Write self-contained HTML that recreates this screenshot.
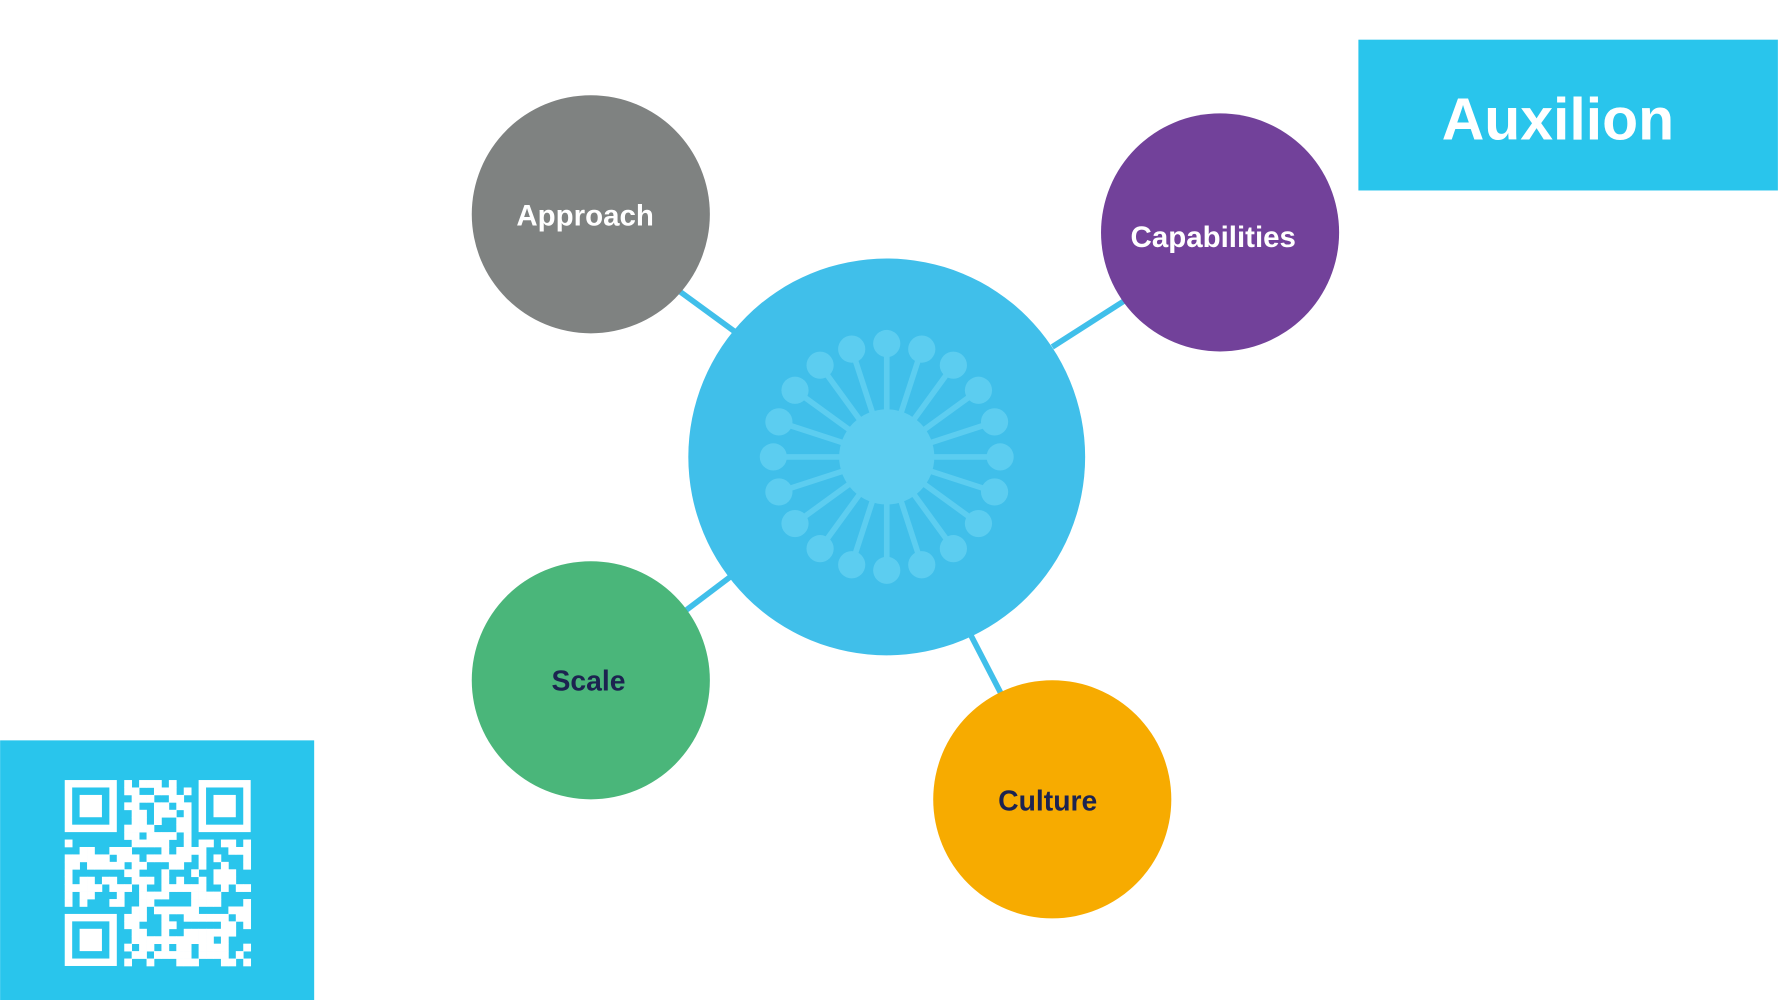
<!DOCTYPE html>
<html><head><meta charset="utf-8"><style>
html,body{margin:0;padding:0;background:#fff;overflow:hidden}
svg{display:block}
text{font-family:"Liberation Sans",Arial,sans-serif;font-weight:bold}
</style></head><body>
<svg id="s" width="1778" height="1000" viewBox="0 0 1568 882" xmlns="http://www.w3.org/2000/svg">
<rect x="1198" y="35" width="370" height="133" fill="#29c5ec"/>
<text x="1374" y="123" font-size="52" fill="#fff" text-anchor="middle">Auxilion</text>
<rect x="0" y="653" width="277" height="229" fill="#29c5ec"/>
<g id="qr" fill="#fff"></g>
<g stroke="#40bfea" stroke-width="5">
<line x1="598" y1="256" x2="650" y2="294"/>
<line x1="928" y1="306" x2="992" y2="265"/>
<line x1="604" y1="539" x2="645" y2="508"/>
<line x1="855" y1="558" x2="884" y2="614"/>
</g>
<circle cx="782" cy="403" r="175" fill="#40bfea"/>
<g id="hub" fill="#5ccdf0" stroke="#5ccdf0" stroke-width="5"></g>
<circle cx="521" cy="189" r="105" fill="#7f8281"/>
<text x="516" y="199" font-size="26" fill="#fff" text-anchor="middle">Approach</text>
<circle cx="1076" cy="205" r="105" fill="#72419a"/>
<text x="1070" y="218" font-size="26" fill="#fff" text-anchor="middle">Capabilities</text>
<circle cx="521" cy="600" r="105" fill="#4ab67a"/>
<text x="519" y="609" font-size="25" fill="#1c2350" text-anchor="middle">Scale</text>
<circle cx="928" cy="705" r="105" fill="#f7ab00"/>
<text x="924" y="715" font-size="25" fill="#1c2350" text-anchor="middle">Culture</text>
</svg>
<script>
var NS="http://www.w3.org/2000/svg";
function el(p,t,a){var e=document.createElementNS(NS,t);for(var k in a)e.setAttribute(k,a[k]);p.appendChild(e);return e;}
var hub=document.getElementById("hub");
el(hub,"circle",{cx:782,cy:403,r:42,stroke:"none"});
for(var i=0;i<20;i++){var a=(i*18-90)*Math.PI/180+(i%5==0?0:0);
var x=782+100*Math.cos(a),y=403+100*Math.sin(a);
el(hub,"line",{x1:782+40*Math.cos(a),y1:403+40*Math.sin(a),x2:x,y2:y});
el(hub,"circle",{cx:x,cy:y,r:12,stroke:"none"});}
var qr=document.getElementById("qr"),N=25,x0=57,y0=688,m=164/N,seed=7;
function rnd(){seed=(seed*9301+49297)%233280;return seed/233280;}
function fin(r,c){return (r<8&&c<8)||(r<8&&c>=N-8)||(r>=N-8&&c<8);}
for(var r=0;r<N;r++)for(var c=0;c<N;c++){if(fin(r,c))continue;if(rnd()<0.5)el(qr,"rect",{x:x0+c*m,y:y0+r*m,width:m+0.3,height:m+0.3});}
[[0,0],[0,N-7],[N-7,0]].forEach(function(p){var X=x0+p[1]*m,Y=y0+p[0]*m;
el(qr,"rect",{x:X,y:Y,width:7*m,height:7*m});
el(qr,"rect",{x:X+m,y:Y+m,width:5*m,height:5*m,fill:"#29c5ec"});
el(qr,"rect",{x:X+2*m,y:Y+2*m,width:3*m,height:3*m});});
</script>
</body></html>
